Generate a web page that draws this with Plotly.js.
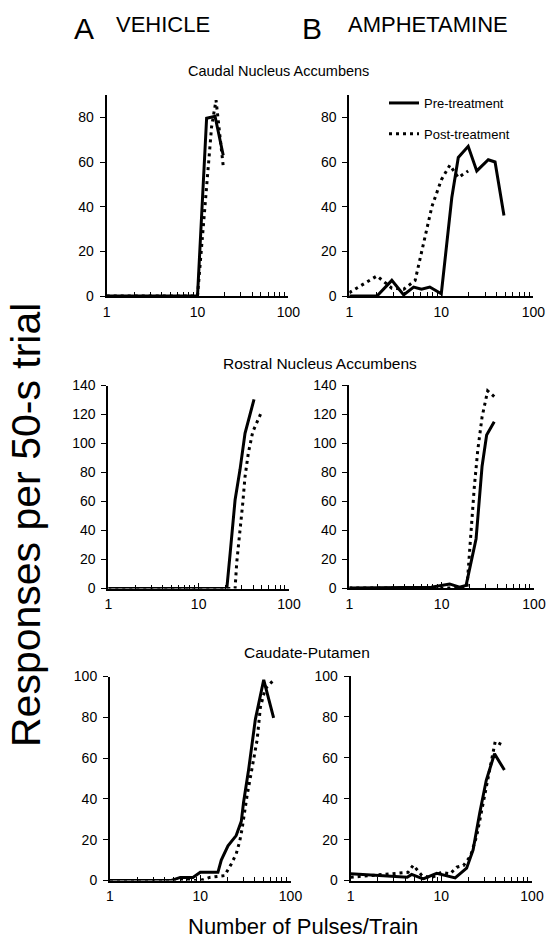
<!DOCTYPE html>
<html>
<head>
<meta charset="utf-8">
<script src="https://cdn.plot.ly/plotly-3.0.1.min.js"></script>
<style>
html,body{margin:0;padding:0;background:#fff;}
#chart{width:548px;height:941px;}
</style>
</head>
<body>
<div id="chart"></div>
<script>
// ---- Data ----
// Caudal Nucleus Accumbens – Vehicle
var caudVehPreX  = [1, 10, 12.6, 15.6, 19.2];
var caudVehPreY  = [0, 0, 79.6, 80.5, 63];
var caudVehPostX = [1, 10, 14.3, 16, 19.2];
var caudVehPostY = [0, 0, 75.8, 87.7, 58.2];
// Caudal Nucleus Accumbens – Amphetamine
var caudAmpPreX  = [1, 2, 2.9, 3.9, 5, 6.1, 7.5, 10, 13, 15.3, 19.6, 24.3, 32.4, 38.4, 48];
var caudAmpPreY  = [0, 0, 7, 0.5, 4, 3, 4, 1, 44, 62, 67, 56, 61, 60, 36];
var caudAmpPostX = [1, 2, 2.9, 3.9, 5.2, 6.9, 7.9, 10, 12.4, 15.3, 19.6];
var caudAmpPostY = [1.5, 9, 3.5, 3, 7, 30, 40, 52, 58.6, 53, 56];
// Rostral Nucleus Accumbens – Vehicle
var rostVehPreX  = [1, 10, 20.5, 22.3, 25.3, 28.7, 32.6, 41];
var rostVehPreY  = [0, 0, 0, 24, 61, 82, 107, 130.5];
var rostVehPostX = [1, 10, 25.3, 26.4, 28.7, 30.8, 32.6, 35.5, 39.7, 49];
var rostVehPostY = [0, 0, 0, 18, 38, 59, 77, 93.5, 108, 121];
// Rostral Nucleus Accumbens – Amphetamine
var rostAmpPreX  = [1, 7.7, 12.2, 15.6, 18.4, 23.6, 27.4, 30.7, 37.1];
var rostAmpPreY  = [0, 0.5, 2.8, 0.5, 1.8, 34, 84, 105.5, 114.7];
var rostAmpPostX = [1, 10, 18.8, 20, 21.4, 22.6, 24.6, 27.4, 31.5, 37.1];
var rostAmpPostY = [0, 0, 0, 24, 54, 70, 95, 118, 136, 132];
// Caudate-Putamen – Vehicle
var cpVehPreX  = [1, 4.8, 6, 8.3, 10, 15.7, 17.1, 20.3, 25, 28.5, 30.2, 34.4, 40.8, 50.5, 65];
var cpVehPreY  = [0, 0, 1.5, 1.5, 4, 4, 10, 17, 22, 29, 38.4, 54.5, 79, 98.4, 79.7];
var cpVehPostX = [1, 10, 12.7, 18.6, 22, 25, 27.3, 29, 33, 37.5, 42.7, 46.4, 52.5, 63];
var cpVehPostY = [0, 0, 1.5, 2.4, 8, 13, 19, 25, 41.5, 54.5, 69, 85, 94, 97.6];
// Caudate-Putamen – Amphetamine
var cpAmpPreX  = [1, 4.2, 4.7, 6.3, 8.9, 11.5, 14.2, 19, 22.4, 26.5, 31.3, 38.6, 49.6];
var cpAmpPreY  = [3.3, 1.6, 3, 0.8, 3.5, 2.5, 1.3, 6, 15, 33, 49, 62, 54];
var cpAmpPostX = [1, 4.3, 4.9, 5.4, 6.1, 7.8, 10, 12.5, 14.8, 17.5, 21, 24.6, 28.8, 32.7, 39.3, 48.8];
var cpAmpPostY = [1.6, 4, 7.5, 5.2, 2.4, 1.3, 4, 3.3, 6.5, 7.3, 12, 22, 38, 51, 68, 66];

var xTickVals = [1, 10, 100];
var xTickText = ['1', '10', '100'];
var xMinorVals = [2,3,4,5,6,7,8,9,20,30,40,50,60,70,80,90];
var seriesNames = ['Pre-treatment', 'Post-treatment'];
var headings = ['A', 'VEHICLE', 'B', 'AMPHETAMINE'];
var regionTitles = ['Caudal Nucleus Accumbens', 'Rostral Nucleus Accumbens', 'Caudate-Putamen'];
var yAxisTitle = 'Responses per 50-s trial';
var xAxisTitle = 'Number of Pulses/Train';

// ---- Layout helpers ----
var W = 548, H = 941;
function px(x){ return x / W; }
function py(y){ return 1 - y / H; }
var FONT = '"Liberation Sans", Arial, Helvetica, sans-serif';

var panels = [
  {pre:[caudVehPreX, caudVehPreY], post:[caudVehPostX, caudVehPostY], xd:[106.7, 288.3], yd:[296, 95],  yr:[0, 90],  dt:20, legend:false},
  {pre:[caudAmpPreX, caudAmpPreY], post:[caudAmpPostX, caudAmpPostY], xd:[349.3, 533.3], yd:[296, 95],  yr:[0, 90],  dt:20, legend:true},
  {pre:[rostVehPreX, rostVehPreY], post:[rostVehPostX, rostVehPostY], xd:[108.3, 289],   yd:[588.5, 385.5], yr:[0, 140], dt:20, legend:false},
  {pre:[rostAmpPreX, rostAmpPreY], post:[rostAmpPostX, rostAmpPostY], xd:[349.3, 534],   yd:[588, 385], yr:[0, 140], dt:20, legend:false},
  {pre:[cpVehPreX, cpVehPreY],     post:[cpVehPostX, cpVehPostY],     xd:[110, 290.5],   yd:[880.5, 676.5], yr:[0, 100], dt:20, legend:false},
  {pre:[cpAmpPreX, cpAmpPreY],     post:[cpAmpPostX, cpAmpPostY],     xd:[350.7, 532],   yd:[880.5, 676], yr:[0, 100], dt:20, legend:false}
];

var data = [];
var layout = {
  width: W, height: H,
  margin: {l:0, r:0, t:0, b:0},
  paper_bgcolor: '#fff', plot_bgcolor: 'rgba(0,0,0,0)',
  font: {family: FONT, color: '#000', size: 14},
  showlegend: true,
  legend: {x: px(384), y: py(88), xanchor: 'left', yanchor: 'top',
           font: {family: FONT, size: 13, color: '#000'}, bgcolor: 'rgba(0,0,0,0)',
           tracegroupgap: 11, traceorder: 'grouped'},
  annotations: [],
  shapes: []
};

panels.forEach(function(p, i){
  var n = i + 1;
  var xa = 'x' + (n === 1 ? '' : n), ya = 'y' + (n === 1 ? '' : n);
  data.push({x: p.pre[0], y: p.pre[1], xaxis: xa, yaxis: ya, mode: 'lines', type: 'scatter',
             name: seriesNames[0], legendgroup: 'pre', showlegend: p.legend,
             line: {color: '#000', width: 3}, hoverinfo: 'skip', cliponaxis: false});
  data.push({x: p.post[0], y: p.post[1], xaxis: xa, yaxis: ya, mode: 'lines', type: 'scatter',
             name: seriesNames[1], legendgroup: 'post', showlegend: p.legend,
             line: {color: '#000', width: 3, dash: '3px,4px'}, hoverinfo: 'skip', cliponaxis: false});
  layout['xaxis' + (n === 1 ? '' : n)] = {
    type: 'log', range: [0, 2], domain: [px(p.xd[0]), px(p.xd[1])], anchor: ya,
    tickmode: 'array', tickvals: xTickVals, ticktext: xTickText,
    ticks: 'inside', ticklen: 6, tickwidth: 1.5, tickcolor: '#000',
    minor: {tickmode: 'array', tickvals: xMinorVals, ticks: 'inside', ticklen: 4, tickwidth: 1, tickcolor: '#000'},
    showline: true, linewidth: 2, linecolor: '#000', showgrid: false, zeroline: false,
    tickfont: {family: FONT, size: 14, color: '#000'}, ticklabelstandoff: 2, fixedrange: true
  };
  layout['yaxis' + (n === 1 ? '' : n)] = {
    range: p.yr, domain: [py(p.yd[0]), py(p.yd[1])], anchor: xa,
    tickmode: 'linear', tick0: 0, dtick: p.dt,
    ticks: 'outside', ticklen: 5, tickwidth: 1, tickcolor: '#000',
    showline: true, linewidth: 2, linecolor: '#000', showgrid: false, zeroline: false,
    tickfont: {family: FONT, size: 14, color: '#000'}, ticklabelstandoff: 3, fixedrange: true
  };
});

function ann(text, x, y, size, xanchor, extra){
  var a = {text: text, x: px(x), y: py(y), xref: 'paper', yref: 'paper', showarrow: false,
           xanchor: xanchor || 'center', yanchor: 'middle', font: {family: FONT, size: size, color: '#000'}};
  if (extra) for (var k in extra) a[k] = extra[k];
  layout.annotations.push(a);
}
ann(headings[0], 84, 28, 30, 'center');
ann(headings[1], 114, 25, 22, 'left');
ann(headings[2], 312, 28, 30, 'center');
ann(headings[3], 346, 25, 22, 'left');
ann(regionTitles[0], 278, 71, 14.5, 'center');
ann(regionTitles[1], 320, 363, 15.5, 'center');
ann(regionTitles[2], 307, 652, 15.5, 'center');
ann(yAxisTitle, 26, 525, 41, 'center', {textangle: -90});
ann(xAxisTitle, 303, 926, 22, 'center');

Plotly.newPlot('chart', data, layout, {staticPlot: true, displayModeBar: false});
</script>
</body>
</html>
